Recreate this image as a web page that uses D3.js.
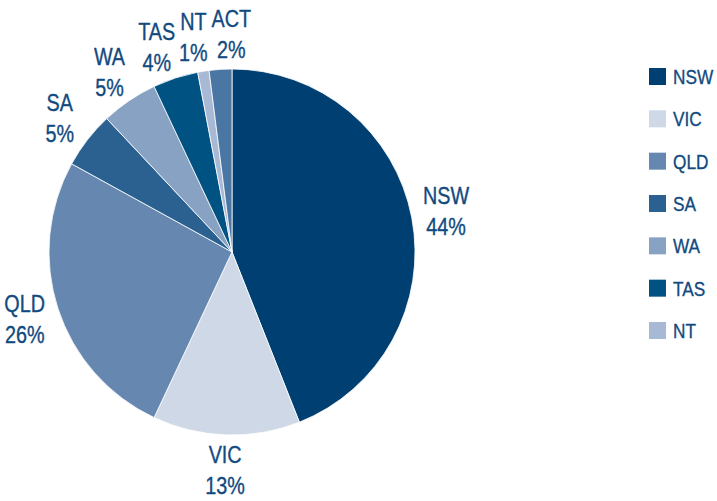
<!DOCTYPE html>
<html><head><meta charset="utf-8">
<script src="https://cdn.jsdelivr.net/npm/d3@7"></script>
<style>
html,body{margin:0;padding:0;background:#fff;}
text{font-family:"Liberation Sans",Arial,sans-serif;}
</style></head>
<body><svg id="chart" width="717" height="501"></svg>
<script>
const categories = ["NSW","VIC","QLD","SA","WA","TAS","NT","ACT"];
const values = [44,13,26,5,5,4,1,2];
const colors = ["#003f72","#cfd8e6","#6688b0","#2a6190","#88a2c4","#005282","#a8b9d5","#4a76a3"];
const legendItems = ["NSW","VIC","QLD","SA","WA","TAS","NT"];

const svg = d3.select("#chart");
const cx = 232, cy = 252, R = 183, labelR = 218;
const textColor = "#124a80";
const labelSize = 23, labelSX = 0.86;
const legendSize = 20.5, legendSX = 0.84;
const data = categories.map((c,i)=>({name:c,value:values[i],color:colors[i]}));
const pie = d3.pie().value(d=>d.value).sort(null);
const arcs = pie(data);
const arc = d3.arc().innerRadius(0).outerRadius(R);
const g = svg.append("g").attr("transform",`translate(${cx},${cy})`);
g.selectAll("path").data(arcs).join("path")
  .attr("d",arc).attr("fill",d=>d.data.color)
  .attr("stroke","#fff").attr("stroke-width",0.8);

// label angles with simple relaxation to keep neighbours apart
const minGap = 10*Math.PI/180;
const la = arcs.map(d=>(d.startAngle+d.endAngle)/2);
for(let it=0;it<200;it++){
  for(let i=0;i<la.length-1;i++){
    const gap = la[i+1]-la[i];
    if(gap<minGap){
      const push=(minGap-gap)/2;
      la[i]-=push; la[i+1]+=push;
    }
  }
}
arcs.forEach((d,i)=>d.labelAngle=la[i]);

const lab = g.selectAll("g.lab").data(arcs).join("g").attr("class","lab")
  .attr("transform",d=>{
    const a=d.labelAngle;
    return `translate(${labelR*Math.sin(a)},${-labelR*Math.cos(a)}) scale(${labelSX},1)`;
  });
lab.append("text").attr("text-anchor","middle").attr("y",-7)
  .attr("font-size",labelSize).attr("fill",textColor)
  .attr("stroke",textColor).attr("stroke-width",0.35).text(d=>d.data.name);
lab.append("text").attr("text-anchor","middle").attr("y",24)
  .attr("font-size",labelSize).attr("fill",textColor)
  .attr("stroke",textColor).attr("stroke-width",0.35).text(d=>d.data.value+"%");

const y = d3.scalePoint().domain(legendItems).range([76.5,330.5]);
const li = svg.append("g").selectAll("g").data(legendItems).join("g")
  .attr("transform",d=>`translate(649,${y(d)})`);
li.append("rect").attr("x",0).attr("y",-8.5).attr("width",17).attr("height",17)
  .attr("fill",d=>colors[categories.indexOf(d)]);
li.append("text").attr("transform",`translate(24,7.5) scale(${legendSX},1)`)
  .attr("font-size",legendSize).attr("fill",textColor)
  .attr("stroke",textColor).attr("stroke-width",0.35).text(d=>d);
</script></body></html>
